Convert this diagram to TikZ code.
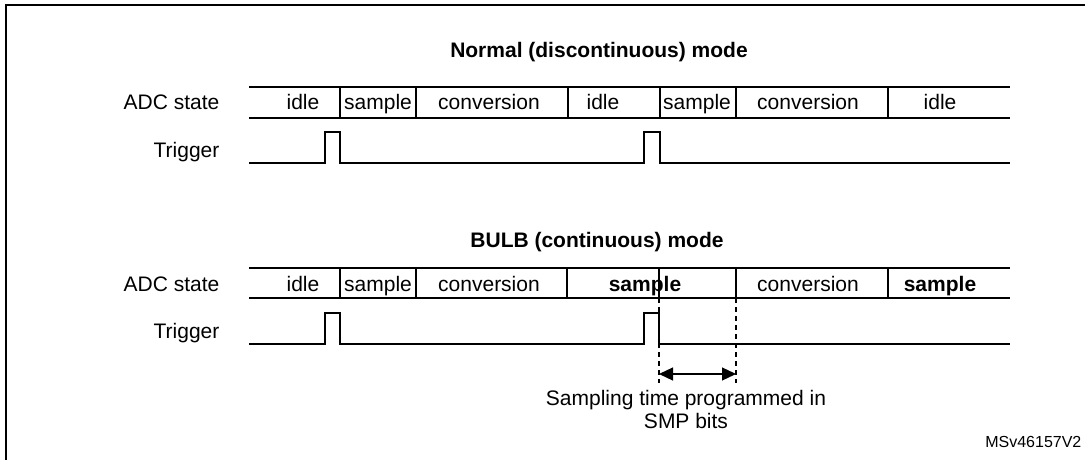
\documentclass[tikz,border=0pt]{standalone}
\usepackage{fontspec}
\setmainfont{Liberation Sans}
\usetikzlibrary{arrows.meta, positioning}

\begin{document}
\begin{tikzpicture} [x=1pt, y=-1pt, line width=1.2pt,
        font=\fontsize{21}{23}\selectfont,
        rowlbl/.style = {anchor=base east, inner sep=0pt},
        phase/.style = {anchor=base, inner sep=0pt},
        title/.style = {anchor=base, inner sep=0pt, font=\fontsize{21}{23}\selectfont\bfseries}]
        \useasboundingbox (0,0) rectangle (1085,460);
        \draw [line width=2pt] (6,470) |- (1095,5);

        % normal (discontinuous) mode
        \node (ntitle) [title] at (599,58) {Normal (discontinuous) mode};
        \node (nstate) [rowlbl] at (220,110) {ADC state};
        \node (ntrig) [rowlbl] at (220,157) {Trigger};
        \draw (249,87) -- (1010,87) (249,118) -- (1010,118);
        \draw (340,87) -- (340,118) (416,87) -- (416,118) (568,87) -- (568,118)
              (660,87) -- (660,118) (736,87) -- (736,118) (888,87) -- (888,118);
        \node (nidle1) [phase] at (303,110) {idle};
        \node (nsmp1) [phase] at (378,110) {sample};
        \node (nconv1) [phase] at (489,110) {conversion};
        \node (nidle2) [phase] at (603,110) {idle};
        \node (nsmp2) [phase] at (697,110) {sample};
        \node (nconv2) [phase] at (808,110) {conversion};
        \node (nidle3) [phase] at (940,110) {idle};
        \draw (249,163) -- (325,163) -- (325,132) -- (340,132) -- (340,163)
              -- (644,163) -- (644,132) -- (660,132) -- (660,163) -- (1010,163);

        % BULB (continuous) mode
        \node (btitle) [title] at (597,247) {BULB (continuous) mode};
        \node (bstate) [rowlbl] at (220,291) {ADC state};
        \node (btrig) [rowlbl] at (220,338) {Trigger};
        \draw (249,268) -- (1010,268) (249,298) -- (1010,298);
        \draw (340,268) -- (340,298) (416,268) -- (416,298) (567,268) -- (567,298)
              (659,268) -- (659,298) (736,268) -- (736,298) (888,268) -- (888,298);
        \node (bidle) [phase] at (303,291) {idle};
        \node (bsmp1) [phase] at (378,291) {sample};
        \node (bconv1) [phase] at (489,291) {conversion};
        \node (bsmp2) [phase, font=\fontsize{21}{23}\selectfont\bfseries] at (645,291) {sample};
        \node (bconv2) [phase] at (808,291) {conversion};
        \node (bsmp3) [phase, font=\fontsize{21}{23}\selectfont\bfseries] at (940,291) {sample};
        \draw (249,344) -- (325,344) -- (325,313) -- (340,313) -- (340,344)
              -- (644,344) -- (644,313) -- (659,313) -- (659,344) -- (1010,344);

        % sampling time
        \draw [dash pattern=on 5pt off 4pt] (659,298) -- (659,383) (736,298) -- (736,383);
        \coordinate (smpstart) at (659,374);
        \coordinate (smpend) at (736,374);
        \draw [{Triangle[length=14pt,width=13pt]}-{Triangle[length=14pt,width=13pt]}] (smpstart) -- (smpend);
        \node (smptxt) [anchor=north, inner sep=0pt, align=center] at (686,390)
              {Sampling time programmed in\\SMP bits};

        \node (ref) [anchor=base east, inner sep=0pt, font=\fontsize{16}{18}\selectfont] at (1082,447) {MSv46157V2};
    \end{tikzpicture}
\end{document}
